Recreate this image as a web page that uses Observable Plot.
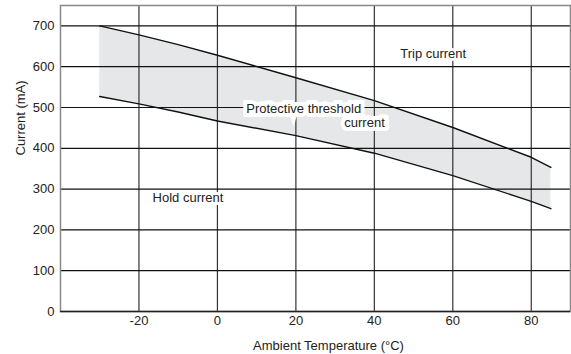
<!DOCTYPE html>
<html>
<head>
<meta charset="utf-8">
<script src="https://cdn.jsdelivr.net/npm/d3@7"></script>
<script src="https://cdn.jsdelivr.net/npm/@observablehq/plot@0.6"></script>
<style>
  html, body { margin: 0; padding: 0; background: #fff; }
  svg { display: block; }
</style>
</head>
<body>
<div id="chart"></div>
<script>
// Data
const temps = [-30, -20, -10, 0, 20, 40, 60, 80, 85];
const tripCurrent = [700, 678, 654, 628, 573, 517, 451, 378, 353];
const holdCurrent = [527, 509, 489, 467, 431, 388, 333, 270, 252];

const xTicks = [-20, 0, 20, 40, 60, 80];
const yTicks = [0, 100, 200, 300, 400, 500, 600, 700];

const labelText = ["Trip current", "Protective threshold", "current", "Hold current"];
const labelX = [55, 22, 37.5, -7.5];
const labelY = [632, 497, 463, 279];

const rows = temps.map((t, i) => ({t, trip: tripCurrent[i], hold: holdCurrent[i]}));
const labels = labelText.map((s, i) => ({s, x: labelX[i], y: labelY[i]}));

const font = "'Liberation Sans', Arial, Helvetica, sans-serif";
const plain = d => String(d);

const chart = Plot.plot({
  width: 571,
  height: 354,
  marginLeft: 60,
  marginRight: 1,
  marginTop: 5,
  marginBottom: 43,
  style: {fontFamily: font, fontSize: "13px", color: "#222", background: "#fff"},
  x: {domain: [-40, 90], ticks: xTicks, tickSize: 0, tickPadding: 4, label: null, tickFormat: plain},
  y: {domain: [0, 750], ticks: yTicks, tickSize: 0, tickPadding: 6, label: null, tickFormat: plain},
  marks: [
    Plot.areaY(rows, {x: "t", y1: "hold", y2: "trip", fill: "#e6e7e8"}),
    Plot.ruleX(xTicks, {stroke: "#333", strokeWidth: 1.2}),
    Plot.ruleY(yTicks.filter(d => d > 0), {stroke: "#111", strokeWidth: 1.2}),
    Plot.lineY(rows, {x: "t", y: "trip", stroke: "#111", strokeWidth: 1.4}),
    Plot.lineY(rows, {x: "t", y: "hold", stroke: "#111", strokeWidth: 1.4}),
    Plot.text(labels.slice(1, 3), {x: "x", y: "y", text: "s", fill: "#222", stroke: "#fff", strokeWidth: 8, strokeLinejoin: "miter", fontSize: 13}),
    Plot.text(labels.filter((d, i) => i === 0 || i === 3), {x: "x", y: "y", text: "s", fill: "#222", stroke: "#fff", strokeWidth: 6, fontSize: 13}),
    Plot.frame({stroke: "#888", strokeWidth: 1.5}),
    Plot.ruleY([0], {stroke: "#222", strokeWidth: 1.3}),
    Plot.axisX({ticks: xTicks, tickSize: 0, tickPadding: 4, label: null, fill: "#222", tickFormat: plain}),
    Plot.axisY({ticks: yTicks, tickSize: 0, tickPadding: 6, label: null, fill: "#222", tickFormat: plain}),
    Plot.text(["Ambient Temperature (°C)"], {frameAnchor: "bottom", dx: 13, dy: 38, fontSize: 13, fill: "#222"}),
    Plot.text(["Current (mA)"], {frameAnchor: "left", dx: -40, dy: -3, rotate: -90, fontSize: 13, fill: "#222"})
  ]
});
document.getElementById("chart").appendChild(chart);
</script>
</body>
</html>
